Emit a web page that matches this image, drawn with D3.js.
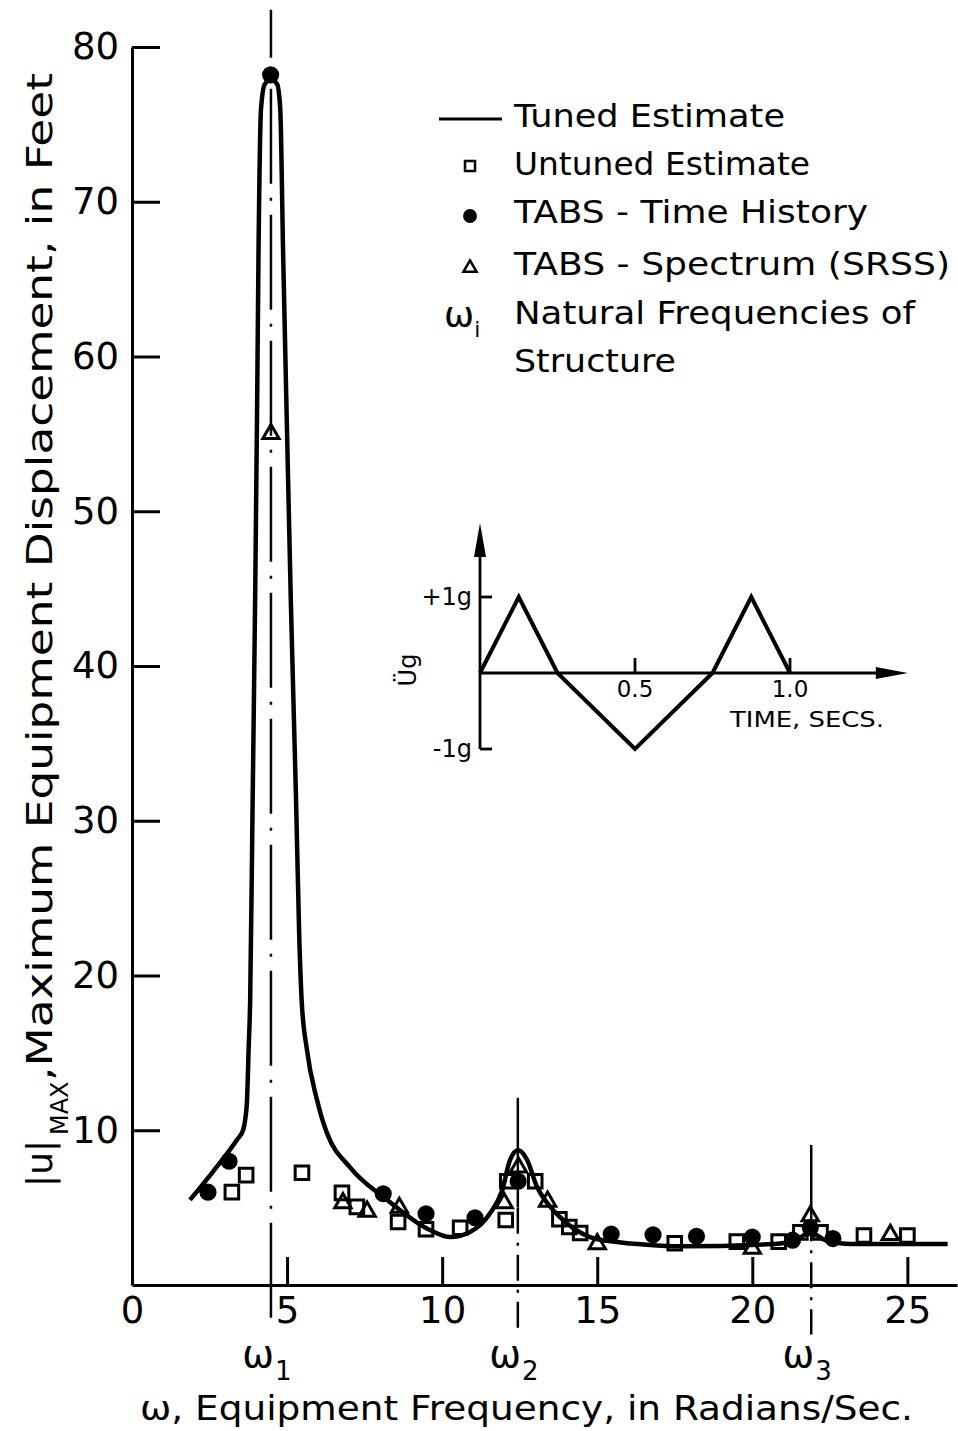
<!DOCTYPE html>
<html>
<head>
<meta charset="utf-8">
<script src="https://cdn.jsdelivr.net/npm/d3@7/dist/d3.min.js"></script>
<style>
    body { margin: 0; background: #fff; }
    svg { display: block; font-family: "DejaVu Sans", sans-serif; }
</style>
</head>
<body>
<script>
//self executing function to keep things in local scope
(function(){

//tuned estimate curve (frequency in rad/sec, displacement in feet)
var tunedFreq = [1.87, 2.6, 3.39, 3.58, 3.65, 3.71, 3.76, 3.81, 3.89, 3.97, 4.03, 4.08, 4.16, 4.28, 4.48, 4.68, 4.78, 4.87, 5.0, 5.12, 5.29, 5.39, 5.47, 5.64, 5.96, 6.12, 6.29, 7.03, 8.23, 9.61, 10.26, 10.9, 11.55, 11.94, 12.19, 12.45, 12.74, 13.06, 13.39, 13.9, 14.77, 15.65, 16.6, 17.7, 20.7, 21.4, 21.87, 22.35, 23.2, 26.3];
var tunedDisp = [5.5, 7.3, 9.4, 10.0, 10.7, 12.0, 15.2, 18.4, 31.3, 44.3, 56.0, 66.9, 76.0, 77.6, 77.9, 77.6, 76.0, 66.9, 55.0, 44.3, 31.3, 22.7, 18.4, 15.2, 12.0, 10.8, 9.8, 7.6, 5.5, 3.55, 3.1, 3.43, 4.65, 6.14, 8.08, 8.7, 8.08, 6.33, 5.3, 4.2, 3.1, 2.78, 2.6, 2.5, 2.65, 2.9, 3.4, 2.9, 2.65, 2.65];

//untuned estimate (open squares)
var untunedFreq = [3.22, 3.68, 5.48, 6.77, 7.25, 8.58, 9.48, 10.58, 12.05, 12.1, 13.0, 13.78, 14.1, 14.45, 17.5, 19.5, 20.85, 21.55, 22.2, 23.6, 25.0];
var untunedDisp = [6.0, 7.1, 7.25, 5.95, 5.05, 4.07, 3.6, 3.7, 4.2, 6.7, 6.7, 4.25, 3.75, 3.36, 2.7, 2.8, 2.8, 3.4, 3.4, 3.2, 3.2];

//TABS time history (filled circles)
var historyFreq = [2.45, 3.13, 4.47, 8.1, 9.48, 11.06, 12.45, 15.45, 16.8, 18.2, 20.0, 21.3, 21.87, 22.6];
var historyDisp = [6.0, 8.0, 78.2, 5.9, 4.6, 4.35, 6.7, 3.3, 3.25, 3.15, 3.1, 2.9, 3.7, 3.0];

//TABS spectrum SRSS (open triangles)
var spectrumFreq = [4.48, 6.8, 7.58, 8.62, 12.0, 12.46, 13.4, 15.0, 20.0, 21.87, 24.45];
var spectrumDisp = [55, 5.3, 4.75, 5.0, 5.3, 7.6, 5.4, 2.65, 2.35, 4.45, 3.25];

//natural frequencies of structure
var omegaFreq = [4.48, 12.44, 21.9];
var omegaNames = ["1", "2", "3"];

//axis ticks
var xTicks = [0, 5, 10, 15, 20, 25];
var yTicks = [10, 20, 30, 40, 50, 60, 70, 80];

//inset ground acceleration record
var waveTime = [0, 0.125, 0.25, 0.5, 0.75, 0.875, 1.0];
var waveAccel = [0, 1, 0, -1, 0, 1, 0];
var insetTicks = [0.5, 1.0];
var insetTickLabels = ["0.5", "1.0"];

//legend entries
var legendLabels = ["Tuned Estimate", "Untuned Estimate", "TABS - Time History", "TABS - Spectrum (SRSS)", "Natural Frequencies of", "Structure"];
var legendWidths = [271, 296, 354, 436, 401, 162];

var width = 958,
    height = 1431,
    ink = "#000";

//helper to zip two arrays into points
function zip(xs, ys){
    return xs.map(function(x, i){ return [x, ys[i]]; });
};

function setChart(){
    var svg = d3.select("body")
        .append("svg")
        .attr("width", width)
        .attr("height", height);

    //scales
    var x = d3.scaleLinear()
        .domain([0, 26.6])
        .range([132, 957]);

    var y = d3.scaleLinear()
        .domain([0, 80])
        .range([1285, 47]);

    //natural frequency lines (drawn first so markers sit on top)
    var omegaTop = [82.4, 12.1, 9.05],
        omegaSolidEnd = [82.4, 5.0, 4.5],
        omegaBottom = -3.2;

    omegaFreq.forEach(function(f, i){
        if (omegaSolidEnd[i] < omegaTop[i]){
            svg.append("line")
                .attr("x1", x(f)).attr("x2", x(f))
                .attr("y1", y(omegaTop[i])).attr("y2", y(omegaSolidEnd[i]))
                .attr("stroke", ink)
                .attr("stroke-width", 2.5);
        };
        svg.append("line")
            .attr("x1", x(f)).attr("x2", x(f))
            .attr("y1", y(omegaSolidEnd[i])).attr("y2", y(omegaBottom))
            .attr("stroke", ink)
            .attr("stroke-width", 2.5)
            .attr("stroke-dasharray", i == 0 ? "48,14,3,14,95,14,3,14,95,14,3,14,95,14,3,14,95,14,3,14,95,14,3,14,95,14,3,14,95,14,3,14,95,14,3,14,95,14,3,14,95" : "26,9,3,9");

        //omega label under the axis
        var lab = svg.append("text")
            .attr("x", x(f) - 4)
            .attr("y", 1367)
            .attr("text-anchor", "middle")
            .attr("font-size", 38)
            .attr("fill", ink)
            .text("ω");
        lab.append("tspan")
            .attr("dx", 1)
            .attr("dy", 13)
            .attr("font-size", 26)
            .text(omegaNames[i]);
    });

    //axes
    var xAxis = d3.axisBottom(x)
        .tickValues(xTicks)
        .tickFormat(d3.format("d"))
        .tickSizeInner(-28)
        .tickSizeOuter(0)
        .tickPadding(12);

    var yAxis = d3.axisLeft(y)
        .tickValues(yTicks)
        .tickFormat(d3.format("d"))
        .tickSizeInner(-28)
        .tickSizeOuter(0)
        .tickPadding(13);

    var gx = svg.append("g")
        .attr("transform", "translate(0," + y(0) + ")")
        .call(xAxis);

    var gy = svg.append("g")
        .attr("transform", "translate(" + x(0) + ",0)")
        .call(yAxis);

    [gx, gy].forEach(function(g){
        g.select(".domain").attr("stroke", ink).attr("stroke-width", 3);
        g.selectAll(".tick line").attr("stroke", ink).attr("stroke-width", 3);
        g.selectAll(".tick text")
            .attr("fill", ink)
            .attr("font-size", 37)
            .attr("font-family", "DejaVu Sans, sans-serif");
    });

    //tuned estimate curve
    var line = d3.line()
        .x(function(d){ return x(d[0]); })
        .y(function(d){ return y(d[1]); })
        .curve(d3.curveMonotoneX);

    svg.append("path")
        .datum(zip(tunedFreq, tunedDisp))
        .attr("d", line)
        .attr("fill", "none")
        .attr("stroke", ink)
        .attr("stroke-width", 4.5)
        .attr("stroke-linejoin", "round");

    //markers
    var square = d3.symbol().type(d3.symbolSquare).size(185),
        circle = d3.symbol().type(d3.symbolCircle).size(230),
        triangle = d3.symbol().type(d3.symbolTriangle).size(115);

    function addMarkers(cls, xs, ys, sym, filled){
        svg.selectAll("." + cls)
            .data(zip(xs, ys))
            .enter()
            .append("path")
            .attr("class", cls)
            .attr("transform", function(d){
                return "translate(" + x(d[0]) + "," + y(d[1]) + ")";
            })
            .attr("d", sym)
            .attr("fill", filled ? ink : "none")
            .attr("stroke", ink)
            .attr("stroke-width", filled ? 0 : 3);
    };

    addMarkers("untuned", untunedFreq, untunedDisp, square, false);
    addMarkers("spectrum", spectrumFreq, spectrumDisp, triangle, false);
    addMarkers("history", historyFreq, historyDisp, circle, true);

    //axis titles
    svg.append("text")
        .attr("x", 140)
        .attr("y", 1420)
        .attr("font-size", 34)
        .attr("textLength", 773)
        .attr("lengthAdjust", "spacingAndGlyphs")
        .attr("fill", ink)
        .text("ω, Equipment Frequency, in Radians/Sec.");

    var yt = svg.append("g")
        .attr("transform", "translate(52,1187) rotate(-90)");
    yt.append("text")
        .attr("x", 0)
        .attr("font-size", 36)
        .attr("fill", ink)
        .text("|u|");
    yt.append("text")
        .attr("x", 52)
        .attr("y", 16)
        .attr("font-size", 24)
        .attr("fill", ink)
        .text("MAX");
    yt.append("text")
        .attr("x", 106)
        .attr("font-size", 36)
        .attr("textLength", 1008)
        .attr("lengthAdjust", "spacingAndGlyphs")
        .attr("fill", ink)
        .text(",Maximum Equipment Displacement, in Feet");

    setLegend(svg);
    setInset(svg);
};

function setLegend(svg){
    var textX = 514,
        baselines = [127, 175, 223, 275, 324, 372],
        markX = 470;

    legendLabels.forEach(function(label, i){
        svg.append("text")
            .attr("x", textX)
            .attr("y", baselines[i])
            .attr("font-size", 32)
            .attr("textLength", legendWidths[i])
            .attr("lengthAdjust", "spacingAndGlyphs")
            .attr("fill", ink)
            .text(label);
    });

    //tuned line sample
    svg.append("line")
        .attr("x1", 439).attr("x2", 502)
        .attr("y1", 119).attr("y2", 119)
        .attr("stroke", ink)
        .attr("stroke-width", 3);

    svg.append("path")
        .attr("transform", "translate(" + markX + ",166)")
        .attr("d", d3.symbol().type(d3.symbolSquare).size(100))
        .attr("fill", "none")
        .attr("stroke", ink)
        .attr("stroke-width", 2.5);

    svg.append("path")
        .attr("transform", "translate(" + markX + ",216)")
        .attr("d", d3.symbol().type(d3.symbolCircle).size(150))
        .attr("fill", ink);

    svg.append("path")
        .attr("transform", "translate(" + markX + ",268)")
        .attr("d", d3.symbol().type(d3.symbolTriangle).size(75))
        .attr("fill", "none")
        .attr("stroke", ink)
        .attr("stroke-width", 2.5);

    var om = svg.append("text")
        .attr("x", 444)
        .attr("y", 327)
        .attr("font-size", 36)
        .attr("fill", ink)
        .text("ω");
    om.append("tspan")
        .attr("dy", 10)
        .attr("font-size", 22)
        .text("i");
};

function setInset(svg){
    var t = d3.scaleLinear()
        .domain([0, 1])
        .range([480, 790]);

    var g = d3.scaleLinear()
        .domain([-1, 1])
        .range([749, 597]);

    var inset = svg.append("g");

    //vertical axis with arrow
    inset.append("line")
        .attr("x1", t(0)).attr("x2", t(0))
        .attr("y1", g(-1)).attr("y2", 545)
        .attr("stroke", ink).attr("stroke-width", 2.8);
    inset.append("path")
        .attr("d", "M" + t(0) + ",523L" + (t(0) - 6) + ",557L" + (t(0) + 6) + ",557Z")
        .attr("fill", ink);

    //horizontal axis with arrow
    inset.append("line")
        .attr("x1", t(0)).attr("x2", t(1.33))
        .attr("y1", g(0)).attr("y2", g(0))
        .attr("stroke", ink).attr("stroke-width", 2.8);
    inset.append("path")
        .attr("d", "M" + t(1.38) + "," + g(0) + "L" + (t(1.38) - 32) + "," + (g(0) - 6) + "L" + (t(1.38) - 32) + "," + (g(0) + 6) + "Z")
        .attr("fill", ink);

    //+1g and -1g ticks
    [1, -1].forEach(function(v){
        inset.append("line")
            .attr("x1", t(0)).attr("x2", t(0) + 12)
            .attr("y1", g(v)).attr("y2", g(v))
            .attr("stroke", ink).attr("stroke-width", 2.8);
        inset.append("text")
            .attr("x", t(0) - 8)
            .attr("y", g(v) + 8)
            .attr("text-anchor", "end")
            .attr("font-size", 24)
            .attr("fill", ink)
            .text(v > 0 ? "+1g" : "-1g");
    });

    //time ticks
    insetTicks.forEach(function(v, i){
        inset.append("line")
            .attr("x1", t(v)).attr("x2", t(v))
            .attr("y1", g(0)).attr("y2", g(0) - 15)
            .attr("stroke", ink).attr("stroke-width", 2.8);
        inset.append("text")
            .attr("x", t(v))
            .attr("y", g(0) + 24)
            .attr("text-anchor", "middle")
            .attr("font-size", 23)
            .attr("fill", ink)
            .text(insetTickLabels[i]);
    });

    inset.append("text")
        .attr("x", 730)
        .attr("y", 727)
        .attr("font-size", 22)
        .attr("textLength", 154)
        .attr("lengthAdjust", "spacingAndGlyphs")
        .attr("fill", ink)
        .text("TIME, SECS.");

    inset.append("text")
        .attr("transform", "translate(416,670) rotate(-90)")
        .attr("text-anchor", "middle")
        .attr("font-size", 24)
        .attr("fill", ink)
        .text("Üg");

    //acceleration record
    var wave = d3.line()
        .x(function(d){ return t(d[0]); })
        .y(function(d){ return g(d[1]); });

    inset.append("path")
        .datum(zip(waveTime, waveAccel))
        .attr("d", wave)
        .attr("fill", "none")
        .attr("stroke", ink)
        .attr("stroke-width", 4)
        .attr("stroke-linejoin", "miter");
};

window.onload = setChart();
})();
</script>
</body>
</html>
